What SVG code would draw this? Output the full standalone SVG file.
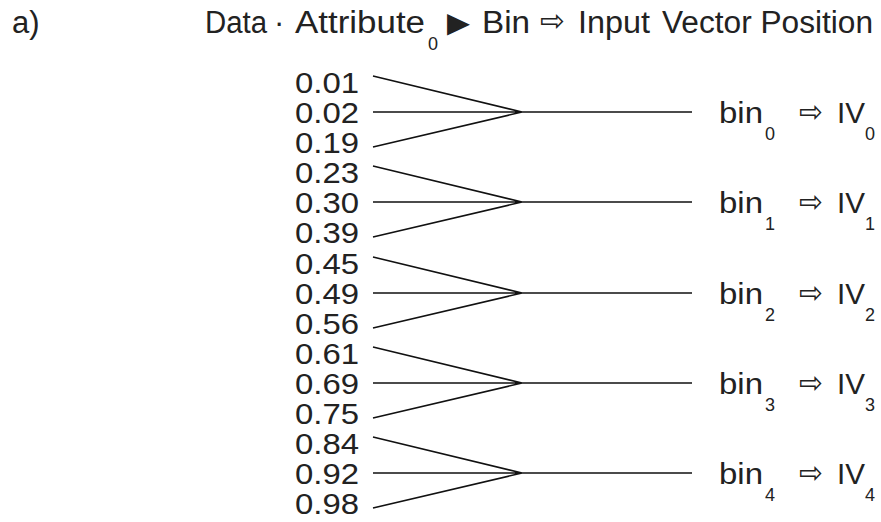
<svg xmlns="http://www.w3.org/2000/svg" width="881" height="522" viewBox="0 0 881 522">
<style>
text{font-family:"Liberation Sans",Arial,sans-serif;fill:#222}
.h{font-size:31px}
.n{font-size:29px}
.b{font-size:30px}
.s{font-size:18px}
.sym{font-family:"DejaVu Sans",sans-serif}
.ln{stroke:#111;stroke-width:1.6;fill:none}
</style>
<rect width="881" height="522" fill="#fff"/>
<g id="header">
<text class="h" x="12" y="33">a)</text>
<text class="h" x="205" y="33" textLength="62" lengthAdjust="spacingAndGlyphs">Data</text>
<text class="h" x="274" y="33">·</text>
<text class="h" x="295" y="33" textLength="130" lengthAdjust="spacingAndGlyphs">Attribute</text>
<text class="s" x="428" y="50">0</text>
<text class="sym" x="447" y="32" font-size="28" textLength="23" lengthAdjust="spacingAndGlyphs">▶</text>
<text class="h" x="482" y="33" textLength="48" lengthAdjust="spacingAndGlyphs">Bin</text>
<text class="sym" x="540" y="31" font-size="30" textLength="25" lengthAdjust="spacingAndGlyphs">⇨</text>
<text class="h" x="578" y="33" textLength="72" lengthAdjust="spacingAndGlyphs">Input</text>
<text class="h" x="662" y="33" textLength="211" lengthAdjust="spacingAndGlyphs">Vector Position</text>
</g>
<g id="values">
<text class="n" x="295" y="93" textLength="64" lengthAdjust="spacingAndGlyphs">0.01</text>
<text class="n" x="295" y="123" textLength="64" lengthAdjust="spacingAndGlyphs">0.02</text>
<text class="n" x="295" y="153" textLength="64" lengthAdjust="spacingAndGlyphs">0.19</text>
<text class="n" x="295" y="183" textLength="64" lengthAdjust="spacingAndGlyphs">0.23</text>
<text class="n" x="295" y="213" textLength="64" lengthAdjust="spacingAndGlyphs">0.30</text>
<text class="n" x="295" y="243" textLength="64" lengthAdjust="spacingAndGlyphs">0.39</text>
<text class="n" x="295" y="274" textLength="64" lengthAdjust="spacingAndGlyphs">0.45</text>
<text class="n" x="295" y="304" textLength="64" lengthAdjust="spacingAndGlyphs">0.49</text>
<text class="n" x="295" y="334" textLength="64" lengthAdjust="spacingAndGlyphs">0.56</text>
<text class="n" x="295" y="364" textLength="64" lengthAdjust="spacingAndGlyphs">0.61</text>
<text class="n" x="295" y="394" textLength="64" lengthAdjust="spacingAndGlyphs">0.69</text>
<text class="n" x="295" y="424" textLength="64" lengthAdjust="spacingAndGlyphs">0.75</text>
<text class="n" x="295" y="454" textLength="64" lengthAdjust="spacingAndGlyphs">0.84</text>
<text class="n" x="295" y="484" textLength="64" lengthAdjust="spacingAndGlyphs">0.92</text>
<text class="n" x="295" y="514" textLength="64" lengthAdjust="spacingAndGlyphs">0.98</text>
</g>
<g id="connectors">
<path class="ln" d="M373 76L522 112L373 147M373 112H692"/>
<path class="ln" d="M373 166L522 202L373 237M373 202H692"/>
<path class="ln" d="M373 257L522 293L373 328M373 293H692"/>
<path class="ln" d="M373 347L522 383L373 418M373 383H692"/>
<path class="ln" d="M373 437L522 473L373 508M373 473H692"/>
</g>
<g id="bin0">
<text class="b" x="719" y="123" textLength="44" lengthAdjust="spacingAndGlyphs">bin</text><text class="s" x="765" y="140">0</text>
<text class="sym" x="799" y="122" font-size="30" textLength="24" lengthAdjust="spacingAndGlyphs">⇨</text>
<text class="b" x="837" y="123" textLength="28" lengthAdjust="spacingAndGlyphs">IV</text><text class="s" x="865" y="140">0</text>
</g>
<g id="bin1">
<text class="b" x="719" y="213" textLength="44" lengthAdjust="spacingAndGlyphs">bin</text><text class="s" x="765" y="230">1</text>
<text class="sym" x="799" y="212" font-size="30" textLength="24" lengthAdjust="spacingAndGlyphs">⇨</text>
<text class="b" x="837" y="213" textLength="28" lengthAdjust="spacingAndGlyphs">IV</text><text class="s" x="865" y="230">1</text>
</g>
<g id="bin2">
<text class="b" x="719" y="304" textLength="44" lengthAdjust="spacingAndGlyphs">bin</text><text class="s" x="765" y="321">2</text>
<text class="sym" x="799" y="303" font-size="30" textLength="24" lengthAdjust="spacingAndGlyphs">⇨</text>
<text class="b" x="837" y="304" textLength="28" lengthAdjust="spacingAndGlyphs">IV</text><text class="s" x="865" y="321">2</text>
</g>
<g id="bin3">
<text class="b" x="719" y="394" textLength="44" lengthAdjust="spacingAndGlyphs">bin</text><text class="s" x="765" y="411">3</text>
<text class="sym" x="799" y="393" font-size="30" textLength="24" lengthAdjust="spacingAndGlyphs">⇨</text>
<text class="b" x="837" y="394" textLength="28" lengthAdjust="spacingAndGlyphs">IV</text><text class="s" x="865" y="411">3</text>
</g>
<g id="bin4">
<text class="b" x="719" y="484" textLength="44" lengthAdjust="spacingAndGlyphs">bin</text><text class="s" x="765" y="501">4</text>
<text class="sym" x="799" y="483" font-size="30" textLength="24" lengthAdjust="spacingAndGlyphs">⇨</text>
<text class="b" x="837" y="484" textLength="28" lengthAdjust="spacingAndGlyphs">IV</text><text class="s" x="865" y="501">4</text>
</g>
</svg>
